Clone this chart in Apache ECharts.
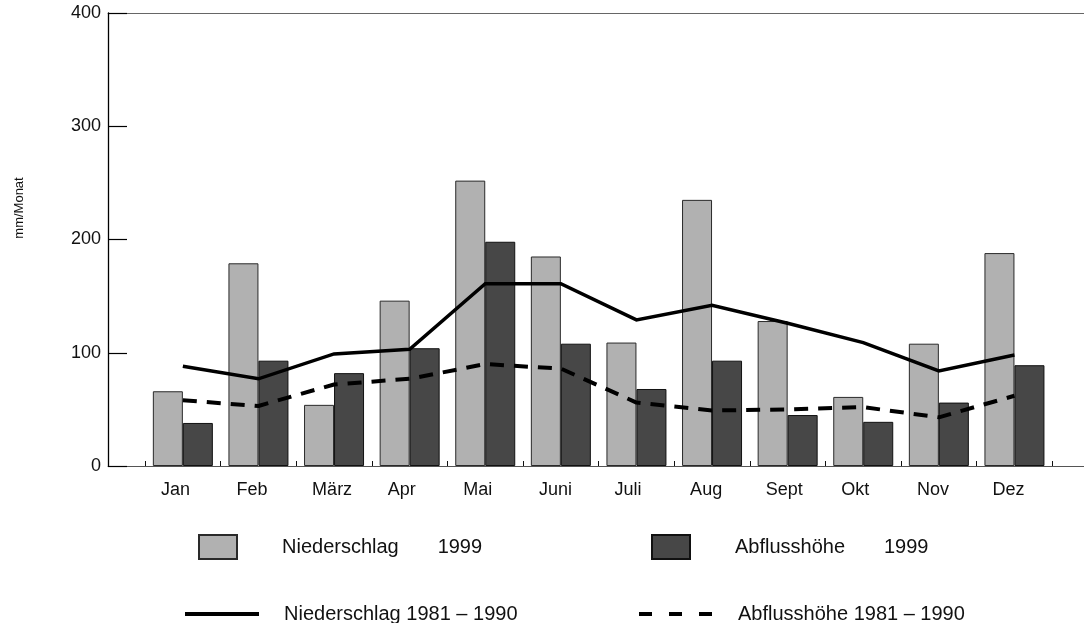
<!DOCTYPE html>
<html>
<head>
<meta charset="utf-8">
<style>
  html, body { margin: 0; padding: 0; background: #fff; }
  #chart { width: 1084px; height: 623px; }
</style>
<script src="https://cdn.jsdelivr.net/npm/echarts@6/dist/echarts.min.js"></script>
</head>
<body>
<div id="chart"></div>
<script>
// Monthly precipitation and runoff depth (mm/Monat)
const months = ['Jan', 'Feb', 'März', 'Apr', 'Mai', 'Juni', 'Juli', 'Aug', 'Sept', 'Okt', 'Nov', 'Dez'];
const niederschlag1999 = [66, 179, 54, 146, 252, 185, 109, 235, 128, 61, 108, 188];
const abfluss1999 = [38, 93, 82, 104, 198, 108, 68, 93, 45, 39, 56, 89];
const niederschlagMittel = [88, 77, 99, 103, 161, 161, 129, 142, 126, 109, 84, 98];
const abflussMittel = [58, 53, 72, 77, 90, 86, 56, 49, 50, 52, 43, 62];
const yTicks = [0, 100, 200, 300, 400];

const FONT = '"Liberation Sans", Arial, sans-serif';
// month labels are set slightly left of the bar-pair centre, left-aligned
const LABEL_SHIFT = 0.29;

const pairs = arr => arr.map((v, i) => [i, v]);
const boundaries = months.map((m, i) => i - 0.5).concat([months.length - 0.5]);

const chart = echarts.init(document.getElementById('chart'), null, { renderer: 'canvas' });

const series = [
  {
    name: 'Niederschlag       1999',
    type: 'bar',
    data: pairs(niederschlag1999),
    barWidth: 30,
    barGap: '0%',
    itemStyle: { color: '#b1b1b1', borderColor: '#2a2a2a', borderWidth: 1 },
    z: 2
  },
  {
    name: 'Abflusshöhe       1999',
    type: 'bar',
    data: pairs(abfluss1999),
    barWidth: 30,
    barGap: '0%',
    itemStyle: { color: '#474747', borderColor: '#111', borderWidth: 1 },
    z: 2
  },
  {
    name: 'Niederschlag 1981 – 1990',
    type: 'line',
    data: pairs(niederschlagMittel),
    symbol: 'none',
    lineStyle: { color: '#000', width: 3.5, cap: 'butt', join: 'miter' },
    itemStyle: { color: '#000' },
    z: 5
  },
  {
    name: 'Abflusshöhe 1981 – 1990',
    type: 'line',
    data: pairs(abflussMittel),
    symbol: 'none',
    lineStyle: { color: '#000', width: 4, type: [14, 10], cap: 'butt' },
    itemStyle: { color: '#000' },
    z: 5
  }
];

function legendItem(name, left, top, w, h, gap, extra) {
  return Object.assign({
    data: [name],
    left: left,
    top: top,
    orient: 'horizontal',
    itemWidth: w,
    itemHeight: h,
    padding: 0,
    selectedMode: false,
    formatter: n => '{t|' + n + '}',
    textStyle: {
      rich: { t: { fontFamily: FONT, fontSize: 20, color: '#111', padding: [0, 0, 0, gap] } }
    }
  }, extra || {});
}

const lineLegend = dash => ({
  itemStyle: { opacity: 0 },
  lineStyle: { color: '#000', width: 4, type: dash, cap: 'butt' }
});

const option = {
  animation: false,
  backgroundColor: '#fff',
  grid: { left: 108, right: 0, top: 13, bottom: 157, containLabel: false },
  xAxis: [
    {
      type: 'value',
      min: -0.99,
      max: 11.92,
      position: 'bottom',
      axisLine: { show: true, onZero: false, lineStyle: { color: '#555', width: 1 } },
      axisTick: {
        show: true, inside: true, length: 5,
        customValues: boundaries,
        lineStyle: { color: '#111', width: 1 }
      },
      axisLabel: {
        show: true,
        customValues: months.map((m, i) => i - LABEL_SHIFT),
        formatter: v => months[Math.round(v + LABEL_SHIFT)] || '',
        align: 'left',
        margin: 15,
        fontFamily: FONT,
        fontSize: 18,
        color: '#111'
      },
      splitLine: { show: false }
    },
    {
      type: 'value',
      min: -0.99,
      max: 11.92,
      position: 'top',
      axisLine: { show: true, onZero: false, lineStyle: { color: '#666', width: 1 } },
      axisTick: { show: false },
      axisLabel: { show: false },
      splitLine: { show: false }
    }
  ],
  yAxis: {
    type: 'value',
    min: 0,
    max: 400,
    interval: 100,
    axisLine: { show: true, onZero: false, lineStyle: { color: '#000', width: 1.3 } },
    axisTick: { show: true, inside: true, length: 19, lineStyle: { color: '#000', width: 1.2 } },
    axisLabel: {
      customValues: yTicks,
      margin: 7,
      fontFamily: FONT,
      fontSize: 18,
      color: '#111'
    },
    splitLine: { show: false }
  },
  legend: [
    legendItem(series[0].name, 198, 534, 38, 24, 40, { icon: 'rect' }),
    legendItem(series[1].name, 651, 534, 38, 24, 40, { icon: 'rect' }),
    legendItem(series[2].name, 183, 604, 74, 16, 20, lineLegend('solid')),
    legendItem(series[3].name, 637, 604, 74, 16, 20, lineLegend([13, 17]))
  ],
  graphic: [
    {
      type: 'text',
      x: 19,
      y: 208,
      rotation: Math.PI / 2,
      style: {
        text: 'mm/Monat',
        font: '13px ' + FONT,
        fill: '#111',
        align: 'center',
        verticalAlign: 'middle'
      }
    }
  ],
  series: series
};

chart.setOption(option);
</script>
</body>
</html>
